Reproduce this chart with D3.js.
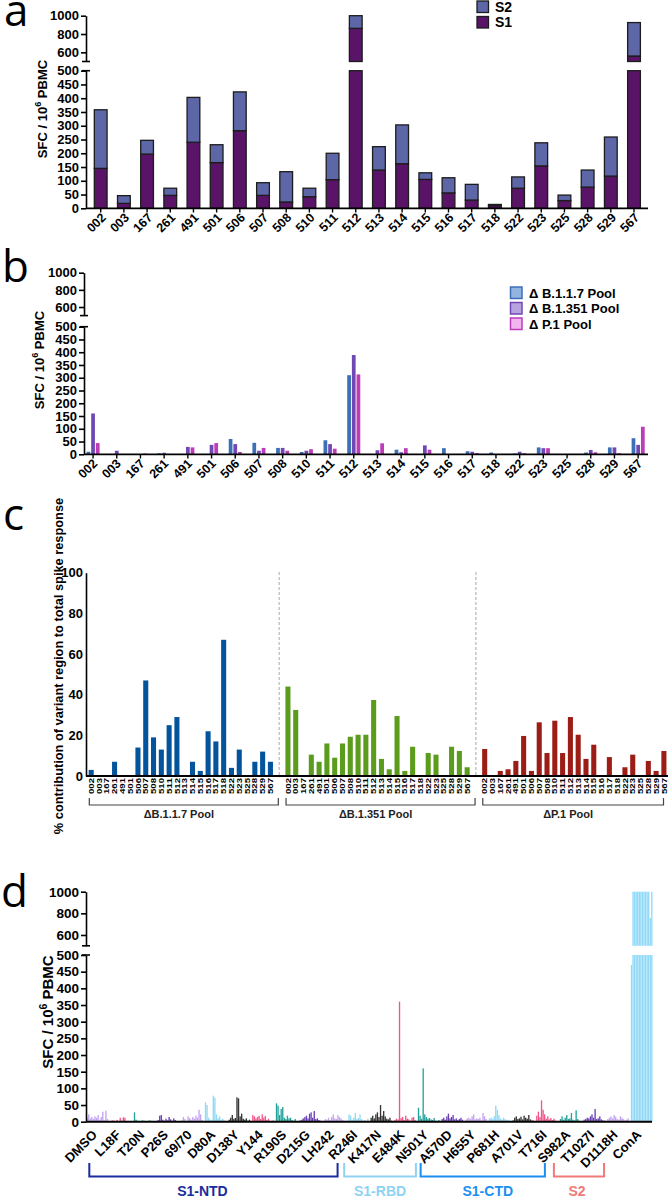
<!DOCTYPE html>
<html>
<head>
<meta charset="utf-8">
<script src="https://cdn.jsdelivr.net/npm/d3@7/dist/d3.min.js"></script>
<style>
body { margin: 0; background: #fff; }
svg { display: block; font-family: "Liberation Sans", Arial, Helvetica, sans-serif; }
.panel-letter { font-family: "Open Sans", "DejaVu Sans", sans-serif; font-size: 44px; }
</style>
</head>
<body>
<svg id="fig" width="669" height="1197"></svg>
<script>

// ---------- data ----------
var DONORS = ['002', '003', '167', '261', '491', '501', '506', '507', '508', '510', '511', '512',
              '513', '514', '515', '516', '517', '518', '522', '523', '525', '528', '529', '567'];

// panel a: SFC / 10^6 PBMC
var S1_VALS = [145, 18, 197, 47, 240, 166, 282, 47, 23, 42, 104, 862, 139, 162, 105, 56, 30, 10, 73, 154, 28, 77, 117, 560];
var S2_VALS = [213, 28, 50, 26, 163, 65, 141, 46, 110, 31, 96, 138, 85, 141, 24, 55, 57, 4, 41, 84, 20, 62, 142, 365];

// panel b: delta pools
var B_SERIES = ['\u0394 B.1.1.7 Pool', '\u0394 B.1.351 Pool', '\u0394 P.1 Pool'];
var B117_VALS  = [10, 0, 0, 4, 0, 0, 60, 45, 25, 9, 55, 310, 0, 18, 0, 24, 12, 7, 3, 27, 0, 7, 27, 63];
var B1351_VALS = [160, 14, 0, 6, 29, 37, 40, 14, 25, 14, 40, 389, 16, 8, 35, 0, 10, 0, 10, 24, 0, 17, 27, 37];
var P1_VALS    = [44, 0, 3, 0, 27, 44, 9, 25, 14, 20, 22, 313, 43, 24, 18, 0, 5, 0, 4, 24, 0, 8, 4, 108];

// panel c: % contribution of variant region
var POOLS = ['\u0394B.1.1.7 Pool', '\u0394B.1.351 Pool', '\u0394P.1 Pool'];
var C_B117  = [3, 0, 0, 7, 0, 0, 14, 47, 19, 13, 25, 29, 0, 7, 2.5, 22, 17, 67, 4, 13, 0, 7, 12, 7];
var C_B1351 = [44, 32.5, 0, 10.5, 7, 16, 9, 16, 19.3, 20.3, 20.3, 37.4, 8.4, 3.3, 29.5, 2.5, 14.4, 0, 11.3, 10.5, 0, 14.4, 12.3, 4.3];
var C_P1    = [13.3, 0, 2.5, 3.3, 7.4, 19.7, 2.5, 26.4, 11.3, 27.2, 11.3, 29, 20.3, 8.4, 15.4, 0, 9.3, 0, 4.3, 10.5, 0, 7.4, 2.5, 12.3];

// panel d: single peptides, one value per donor
var D_CATS = ['DMSO', 'L18F', 'T20N', 'P26S', '69/70', 'D80A', 'D138Y', 'Y144', 'R190S', 'D215G', 'LH242',
              'R246I', 'K417N', 'E484K', 'N501Y', 'A570D', 'H655Y', 'P681H', 'A701V', 'T716I',
              'S982A', 'T1027I', 'D1118H', 'ConA'];
var D_VALS = [
    [12, 22, 10, 14, 8, 16, 12, 20, 6, 14, 30, 4, 33, 8],
    [2, 4, 3, 0, 5, 2, 12, 3, 13, 12, 2, 1, 0, 2],
    [28, 6, 3, 0, 2, 4, 3, 1, 0, 3, 4, 2, 1, 0],
    [5, 18, 20, 6, 3, 9, 4, 14, 7, 3, 10, 5, 2, 1],
    [4, 14, 8, 2, 16, 11, 6, 14, 9, 18, 12, 36, 22, 5],
    [58, 50, 12, 6, 4, 78, 72, 22, 10, 16, 6, 9, 4, 2],
    [6, 12, 20, 9, 11, 73, 70, 16, 24, 9, 6, 10, 3, 6],
    [20, 16, 10, 14, 18, 8, 22, 12, 17, 5, 9, 3, 2, 4],
    [55, 48, 20, 38, 44, 12, 8, 18, 10, 12, 5, 3, 8, 2],
    [4, 6, 10, 14, 18, 10, 24, 28, 12, 32, 8, 10, 5, 3],
    [3, 8, 6, 12, 5, 14, 22, 10, 8, 20, 14, 10, 5, 3],
    [4, 22, 18, 6, 12, 26, 9, 11, 22, 8, 3, 5, 2, 9],
    [12, 18, 10, 22, 28, 14, 50, 18, 32, 16, 9, 7, 12, 3],
    [5, 9, 7, 360, 11, 14, 5, 18, 9, 7, 3, 12, 14, 5],
    [42, 18, 9, 160, 22, 14, 9, 11, 7, 5, 11, 3, 2, 5],
    [8, 12, 6, 16, 24, 10, 14, 20, 7, 10, 5, 8, 12, 6],
    [6, 10, 12, 8, 16, 22, 7, 10, 8, 12, 4, 26, 16, 8],
    [10, 12, 8, 16, 48, 36, 20, 10, 6, 12, 8, 4, 6, 3],
    [4, 12, 16, 8, 10, 15, 7, 18, 12, 9, 20, 7, 4, 3],
    [18, 30, 14, 64, 36, 22, 9, 16, 7, 11, 5, 9, 3, 2],
    [8, 16, 6, 12, 20, 8, 10, 26, 6, 4, 34, 8, 3, 2],
    [6, 8, 12, 10, 16, 22, 12, 38, 8, 10, 16, 7, 4, 3],
    [8, 12, 16, 10, 20, 15, 8, 6, 16, 12, 8, 4, 6, 10],
    [470, 1000, 1000, 1000, 1000, 1000, 1000, 1000, 1000, 1000, 1000, 1000, 757, 1000]
];
var D_REGIONS = [
    { name: 'S1-NTD', from: 'DMSO',  to: 'LH242',  color: '#1b2c9c', off0: 0.14, off1: 0.63, shift: -11 },
    { name: 'S1-RBD', from: 'R246I', to: 'E484K',  color: '#8ed3f4', off0: -0.09, off1: 0.94, shift: 0 },
    { name: 'S1-CTD', from: 'N501Y', to: 'T716I',  color: '#1b8ff0', off0: 0.14, off1: 0.39, shift: 5 },
    { name: 'S2',     from: 'S982A', to: 'D1118H', color: '#f07a78', off0: -0.23, off1: -0.11, shift: -2 }
];

var LOW_TICKS = [0, 50, 100, 150, 200, 250, 300, 350, 400, 450, 500];
var UP_TICKS = [600, 800, 1000];

// ---------- colours ----------
var COL_S1 = '#5a1467';
var COL_S2 = '#5d67a7';
var B_COLORS = ['#3d6fb6', '#7048b4', '#bd3cb8'];
var B_LIGHT = ['#93b3e0', '#b7a3df', '#f2b5f0'];
var C_COLORS = ['#03549c', '#5b9c1c', '#9c1c16'];
var LP = '#c3a3f2', PK = '#f2548c', TL = '#22a39a', PU = '#6a3fb3', LB = '#8fd9f7', DK = '#333333';
var D_COLORS = [LP, PK, TL, PU, LP, LB, DK, PK, TL, PU, LP, LB, DK, PK, TL, PU, LP, LB, DK, PK, TL, PU, LP, LB];

var FONT = '"Liberation Sans", Arial, Helvetica, sans-serif';
var svg = d3.select('#fig');

// ---------- helpers ----------
function brokenScale(y0, y500, up500, up1000) {
    return {
        low: d3.scaleLinear().domain([0, 500]).range([y0, y500]),
        up: d3.scaleLinear().domain([500, 1000]).range([up500, up1000])
    };
}

function styleAxis(g, size) {
    g.attr('font-family', FONT).attr('font-size', size).attr('font-weight', 'bold');
    g.selectAll('text').attr('fill', '#000');
    g.selectAll('.domain, line').attr('stroke', '#000').attr('stroke-width', 1.6);
}

function drawBrokenAxis(sc, x, size) {
    var fmt = d3.format('d');
    var gl = svg.append('g').attr('transform', 'translate(' + x + ',0)')
        .call(d3.axisLeft(sc.low).tickValues(LOW_TICKS).tickFormat(fmt)
            .tickSize(5).tickSizeOuter(0).tickPadding(2));
    styleAxis(gl, size);
    var gu = svg.append('g').attr('transform', 'translate(' + x + ',0)')
        .call(d3.axisLeft(sc.up).tickValues(UP_TICKS).tickFormat(fmt)
            .tickSize(5).tickSizeOuter(0).tickPadding(2));
    styleAxis(gu, size);

    // break marks
    [sc.up(500), sc.low(500)].forEach(function(yb) {
        svg.append('line').attr('x1', x - 4).attr('x2', x + 4)
            .attr('y1', yb).attr('y2', yb)
            .attr('stroke', '#000').attr('stroke-width', 1.6);
    });
}

// draw the part of a bar between v0 and v1 in whichever segment(s) it falls
function brokenRect(g, sc, x, w, v0, v1, fill, stroke, sw) {
    var segs = [[sc.low, 0, 500], [sc.up, 500, 1000]];
    segs.forEach(function(seg) {
        var a = Math.max(v0, seg[1]);
        var b = Math.min(v1, seg[2]);
        if (b <= a) { return; }
        g.append('rect')
            .attr('x', x).attr('width', w)
            .attr('y', seg[0](b)).attr('height', seg[0](a) - seg[0](b))
            .attr('fill', fill)
            .attr('stroke', stroke || 'none')
            .attr('stroke-width', sw || 0);
    });
}

function yLabel(x, y, size) {
    var t = svg.append('text')
        .attr('transform', 'translate(' + x + ',' + y + ') rotate(-90)')
        .attr('text-anchor', 'middle')
        .style('font-weight', 'bold')
        .style('font-size', size + 'px');
    t.append('tspan').text('SFC / 10');
    t.append('tspan').attr('dy', -size * 0.4).style('font-size', (size * 0.7) + 'px').text('6');
    t.append('tspan').attr('dy', size * 0.4).text(' PBMC');
}

function panelLetter(txt, x, y) {
    svg.append('text').attr('class', 'panel-letter').attr('x', x).attr('y', y).text(txt);
}

function xLine(x1, x2, y, sw) {
    svg.append('line').attr('x1', x1).attr('x2', x2).attr('y1', y).attr('y2', y)
        .attr('stroke', '#000').attr('stroke-width', sw);
}

function diagLabels(cats, cx, y0, size, dx, dy) {
    svg.append('g').selectAll('text')
        .data(cats)
    .enter().append('text')
        .attr('transform', function(d) {
            return 'translate(' + (cx(d) + dx) + ',' + (y0 + dy) + ') rotate(-45)';
        })
        .attr('text-anchor', 'end')
        .style('font-weight', 'bold')
        .style('font-size', size + 'px')
        .text(function(d) { return d; });
}

// ---------- panel a ----------
panelLetter('a', 4, 26);
var aY = brokenScale(208.3, 70.7, 61.5, 15.7);
var xa = d3.scaleBand().domain(DONORS).range([89.1, 645.6]).paddingInner(0.45).paddingOuter(0.225);
var ga = svg.append('g');
DONORS.forEach(function(d, i) {
    var x = xa(d), w = xa.bandwidth();
    brokenRect(ga, aY, x, w, 0, S1_VALS[i], COL_S1, '#1c1c1c', 1.3);
    brokenRect(ga, aY, x, w, S1_VALS[i], S1_VALS[i] + S2_VALS[i], COL_S2, '#1c1c1c', 1.3);
});
drawBrokenAxis(aY, 86, 13);
xLine(86, 648, 208.3, 1.8);
DONORS.forEach(function(d) {
    var cx = xa(d) + xa.bandwidth() / 2;
    svg.append('line').attr('x1', cx).attr('x2', cx).attr('y1', 208.3).attr('y2', 212.5)
        .attr('stroke', '#000').attr('stroke-width', 1.4);
});
diagLabels(DONORS, function(d) { return xa(d) + xa.bandwidth() / 2; }, 208.3, 12.5, 6, 10);
yLabel(46.5, 109, 13);

// legend a
[['S2', COL_S2], ['S1', COL_S1]].forEach(function(it, i) {
    svg.append('rect').attr('x', 477).attr('y', 1 + i * 15.5).attr('width', 11.5).attr('height', 11.5)
        .attr('fill', it[1]).attr('stroke', '#1c1c1c').attr('stroke-width', 1.3);
    svg.append('text').attr('x', 495).attr('y', 11.5 + i * 15.5)
        .style('font-weight', 'bold').style('font-size', '14px').text(it[0]);
});

// ---------- panel b ----------
panelLetter('b', 2, 282);
var bY = brokenScale(454.3, 326.7, 315.6, 272.7);
var xb = d3.scaleBand().domain(DONORS).range([81.2, 650]);
var xbi = d3.scaleBand().domain([0, 1, 2]).range([-7, 7]).paddingInner(0.2).paddingOuter(0.1);
var bVals = [B117_VALS, B1351_VALS, P1_VALS];
var gb = svg.append('g');
DONORS.forEach(function(d, i) {
    var cx = xb(d) + xb.bandwidth() / 2;
    bVals.forEach(function(vals, s) {
        if (vals[i] <= 0) { return; }
        brokenRect(gb, bY, cx + xbi(s), xbi.bandwidth(), 0, vals[i], B_COLORS[s]);
    });
});
drawBrokenAxis(bY, 84, 13);
xLine(84, 648, 454.3, 1.8);
DONORS.forEach(function(d) {
    var cx = xb(d) + xb.bandwidth() / 2;
    svg.append('line').attr('x1', cx).attr('x2', cx).attr('y1', 454.3).attr('y2', 458.5)
        .attr('stroke', '#000').attr('stroke-width', 1.4);
});
diagLabels(DONORS, function(d) { return xb(d) + xb.bandwidth() / 2; }, 454.3, 12.5, 5, 10);
yLabel(43.5, 360, 13);

// legend b
B_SERIES.forEach(function(name, i) {
    svg.append('rect').attr('x', 510.5).attr('y', 287 + i * 15.5).attr('width', 11.5).attr('height', 11.5)
        .attr('fill', B_LIGHT[i]).attr('stroke', B_COLORS[i]).attr('stroke-width', 1.5);
    svg.append('text').attr('x', 529).attr('y', 297.5 + i * 15.5)
        .style('font-weight', 'bold').style('font-size', '13px').text(name);
});

// ---------- panel c ----------
panelLetter('c', 3, 530);
var yc = d3.scaleLinear().domain([0, 100]).range([776, 572.7]);
var xg = d3.scaleBand().domain(POOLS).range([87.3, 667.8]).paddingInner(0.0494);
var xc = d3.scaleBand().domain(DONORS).range([0, xg.bandwidth()]).paddingInner(0.35).paddingOuter(0.175);
var cVals = [C_B117, C_B1351, C_P1];
var gc = svg.append('g');

// dashed separators between pools
[1, 2].forEach(function(k) {
    var xs = (xg(POOLS[k - 1]) + xg.bandwidth() + xg(POOLS[k])) / 2;
    svg.append('line').attr('x1', xs).attr('x2', xs).attr('y1', 572).attr('y2', 776)
        .attr('stroke', '#aaa').attr('stroke-width', 1).attr('stroke-dasharray', '3,2');
});

POOLS.forEach(function(p, k) {
    gc.append('g').selectAll('rect')
        .data(cVals[k])
    .enter().append('rect')
        .attr('x', function(v, i) { return xg(p) + xc(DONORS[i]); })
        .attr('width', xc.bandwidth())
        .attr('y', function(v) { return yc(v); })
        .attr('height', function(v) { return yc(0) - yc(v); })
        .attr('fill', C_COLORS[k]);

    // tiny vertical donor labels
    gc.append('g').selectAll('text')
        .data(DONORS)
    .enter().append('text')
        .attr('transform', function(d) {
            return 'translate(' + (xg(p) + xc(d) + xc.bandwidth() / 2 + 2.6) + ',778) rotate(-90)';
        })
        .attr('text-anchor', 'end')
        .attr('textLength', 16)
        .attr('lengthAdjust', 'spacingAndGlyphs')
        .style('font-weight', 'bold')
        .style('font-size', '7px')
        .text(function(d) { return d; });

    // pool bracket
    var b0 = xg(p) + 2;
    var b1 = Math.min(xg(p) + xg.bandwidth() + 4, 663.5);
    svg.append('path')
        .attr('d', 'M' + b0 + ',798V805H' + b1 + 'V798')
        .attr('fill', 'none').attr('stroke', '#444').attr('stroke-width', 1.2);
    svg.append('text').attr('x', (b0 + b1) / 2 - 5).attr('y', 817.5)
        .attr('text-anchor', 'middle')
        .style('font-weight', 'bold').style('font-size', '11px').style('fill', '#222')
        .text(p);
});

var gcy = svg.append('g').attr('transform', 'translate(86,0)')
    .call(d3.axisLeft(yc).tickValues([0, 20, 40, 60, 80, 100]).tickSize(0).tickSizeOuter(0).tickPadding(3));
styleAxis(gcy, 13);
xLine(86, 668, 776, 1.8);
svg.append('text')
    .attr('transform', 'translate(63,666) rotate(-90)')
    .attr('text-anchor', 'middle')
    .style('font-weight', 'bold').style('font-size', '12.8px')
    .text('% contribution of variant region to total spike response');

// ---------- panel d ----------
panelLetter('d', 1, 907);
var dY = brokenScale(1121.7, 955, 945.8, 891.7);
var xd = d3.scaleBand().domain(D_CATS).range([86, 654]);
var xdi = d3.scaleBand().domain(d3.range(D_VALS[0].length)).range([0.5, xd.bandwidth() - 1.5]).paddingInner(0.15);
var gd = svg.append('g');
D_CATS.forEach(function(c, i) {
    D_VALS[i].forEach(function(v, j) {
        if (v <= 0) { return; }
        brokenRect(gd, dY, xd(c) + xdi(j), xdi.bandwidth(), 0, v, D_COLORS[i]);
    });
});
drawBrokenAxis(dY, 86, 13.5);
xLine(86, 652, 1121.7, 2);
diagLabels(D_CATS, function(d) { return xd(d) + xd.bandwidth() / 2; }, 1121.7, 13, 0, 14);
yLabel(53, 1012, 15);

// region brackets
D_REGIONS.forEach(function(r) {
    var x0 = xd(r.from) + r.off0 * xd.bandwidth();
    var x1 = xd(r.to) + r.off1 * xd.bandwidth();
    svg.append('path')
        .attr('d', 'M' + x0 + ',1163V1176.5H' + x1 + 'V1163')
        .attr('fill', 'none').attr('stroke', r.color).attr('stroke-width', 2);
    svg.append('text').attr('x', (x0 + x1) / 2 + r.shift).attr('y', 1195.5)
        .attr('text-anchor', 'middle')
        .style('font-weight', 'bold').style('font-size', '14px').style('fill', r.color)
        .text(r.name);
});

</script>
</body>
</html>
